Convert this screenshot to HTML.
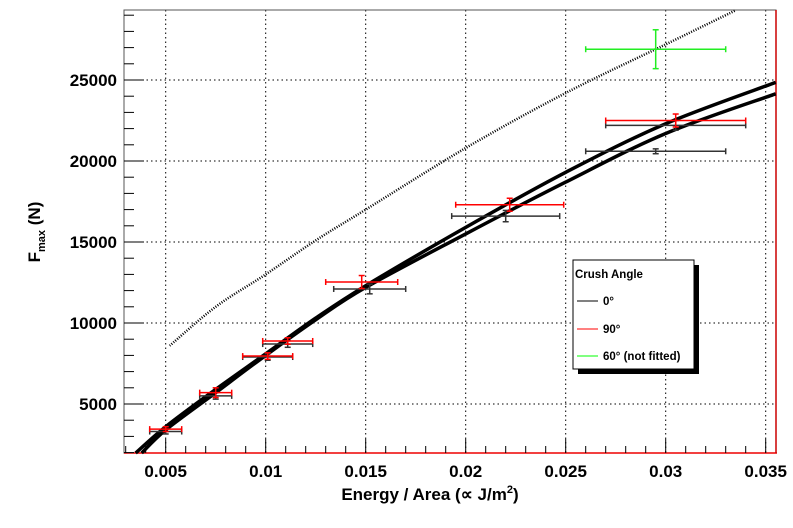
<!DOCTYPE html>
<html><head><meta charset="utf-8"><style>
body{margin:0;background:#fff;}
svg text{font-family:"Liberation Sans",Arial,sans-serif;font-weight:bold;}
</style></head><body>
<svg id="chart" width="793" height="523" xmlns="http://www.w3.org/2000/svg">
<rect width="793" height="523" fill="#fff"/>
<g id="grid"></g>
<g id="axes"></g>
<g id="curves"></g>
<g id="points"></g>
<text x="430" y="500" font-size="17" text-anchor="middle">Energy / Area (∝ J/m<tspan font-size="11" dy="-7">2</tspan><tspan dy="7">)</tspan></text>
<text transform="translate(40,232) rotate(-90)" font-size="17" text-anchor="middle">F<tspan font-size="11" dy="5">max</tspan><tspan dy="-5"> (N)</tspan></text>
<g>
<rect x="578" y="265" width="121" height="109" fill="#000"/>
<rect x="573" y="260" width="121" height="109" fill="#fff" stroke="#000" stroke-width="1"/>
<text x="575" y="278" font-size="11.5">Crush Angle</text>
<line x1="577" y1="301" x2="598" y2="301" stroke="#000"/>
<text x="603" y="305" font-size="11.5">0°</text>
<line x1="577" y1="329" x2="598" y2="329" stroke="#f00"/>
<text x="603" y="333" font-size="11.5">90°</text>
<line x1="577" y1="356" x2="598" y2="356" stroke="#0f0"/>
<text x="603" y="360" font-size="11.5">60° (not fitted)</text>
</g>
</svg>
<script>
const xTicks=[0.005,0.01,0.015,0.02,0.025,0.03,0.035];
const xTickLabels=["0.005","0.01","0.015","0.02","0.025","0.03","0.035"];
const yTicks=[5000,10000,15000,20000,25000];
const yTickLabels=["5000","10000","15000","20000","25000"];
const s0x=[0.005,0.0075,0.0101,0.0111,0.0152,0.022,0.0295,0.0305];
const s0y=[3300,5500,7900,8700,12100,16600,20600,22200];
const s0xe=[0.0008,0.0008,0.00125,0.00125,0.0018,0.0027,0.0035,0.0035];
const s0ye=[150,200,200,200,300,350,150,300];
const s90x=[0.005,0.0075,0.0101,0.0111,0.0148,0.0222,0.0305];
const s90y=[3450,5700,7960,8890,12530,17300,22500];
const s90xe=[0.0008,0.0008,0.00125,0.00125,0.0018,0.0027,0.0035];
const s90ye=[150,300,200,200,400,400,400];
const s60x=[0.0295];const s60y=[26900];const s60xe=[0.0035];const s60ye=[1200];
const fitAx=[0.0035,0.005,0.0075,0.01,0.0125,0.015,0.02,0.025,0.03,0.0355];
const fitAy=[1975,3600,5900,8100,10300,12300,15900,19300,22300,24850];
const fitBx=[0.0038,0.005,0.0075,0.01,0.0125,0.015,0.02,0.025,0.03,0.0355];
const fitBy=[1975,3400,5700,8000,10200,12200,15500,18700,21700,24150];
const fitCx=[0.0052,0.0075,0.01,0.0125,0.015,0.02,0.025,0.03,0.0335];
const fitCy=[8600,11000,13000,15100,17000,20800,24200,27200,29300];

const L=124,R=776,T=10,B=453;
const X=v=>65.7+v*20000;
const Y=v=>404-(v-5000)*81/5000;
const NS="http://www.w3.org/2000/svg";
function mk(p,tag,a){const e=document.createElementNS(NS,tag);for(const k in a)e.setAttribute(k,a[k]);p.appendChild(e);return e;}
const grid=document.getElementById('grid'),axes=document.getElementById('axes');
xTicks.forEach(v=>{const l=mk(grid,'line',{x1:X(v),x2:X(v),y1:T,y2:B,stroke:'#000','stroke-dasharray':'1.5,3'});

});
yTicks.forEach(v=>{const l=mk(grid,'line',{x1:L,x2:R,y1:Y(v),y2:Y(v),stroke:'#000','stroke-dasharray':'1.5,3'});

});
const fr=mk(axes,'rect',{x:L,y:T,width:R-L,height:B-T,fill:'none',stroke:'#555','stroke-width':1});


mk(axes,'line',{x1:L,x2:R+1,y1:B,y2:B,stroke:'#e00','stroke-width':1.5});
mk(axes,'line',{x1:R,x2:R,y1:T,y2:B,stroke:'#c00','stroke-width':1.5});
for(let i=3;i<=35;i++){const v=i/1000;const big=i%5==0;mk(axes,'line',{x1:X(v),x2:X(v),y1:B,y2:B-(big?14:7),stroke:'#000'});}
for(let v=2000;v<=29000;v+=1000){const big=v%5000==0;mk(axes,'line',{x1:L,x2:L+(big?20:10),y1:Y(v),y2:Y(v),stroke:'#000'});}
xTicks.forEach((v,i)=>{const t=mk(axes,'text',{x:X(v),y:477,'font-size':17,'text-anchor':'middle'});t.textContent=xTickLabels[i];

});
yTicks.forEach((v,i)=>{const t=mk(axes,'text',{x:117,y:Y(v)+6,'font-size':17,'text-anchor':'end'});t.textContent=yTickLabels[i];

});
const cv=document.getElementById('curves');
function curve(xs,ys,name,attrs){
const P=xs.map((x,i)=>[X(x),Y(ys[i])]);
let d='M'+P[0][0].toFixed(1)+','+P[0][1].toFixed(1);
for(let i=0;i<P.length-1;i++){const p0=P[Math.max(0,i-1)],p1=P[i],p2=P[i+1],p3=P[Math.min(P.length-1,i+2)];
const c1=[p1[0]+(p2[0]-p0[0])/6,p1[1]+(p2[1]-p0[1])/6],c2=[p2[0]-(p3[0]-p1[0])/6,p2[1]-(p3[1]-p1[1])/6];
d+='C'+c1.map(n=>n.toFixed(1)).join(',')+' '+c2.map(n=>n.toFixed(1)).join(',')+' '+p2.map(n=>n.toFixed(1)).join(',');}
const p=mk(cv,'path',Object.assign({d:d,fill:'none',stroke:'#000'},attrs));

}
curve(fitAx,fitAy,'fit-curve-90',{'stroke-width':3.5});
curve(fitBx,fitBy,'fit-curve-0',{'stroke-width':3.5});
curve(fitCx,fitCy,'fit-curve-60',{'stroke-width':2.5,'stroke-dasharray':'1,1.5'});
const pt=document.getElementById('points');
function series(xs,ys,xe,ye,col,name){xs.forEach((x,i)=>{const g=mk(pt,'g',{stroke:col,'stroke-width':1.5});


const cx=X(x),cy=Y(ys[i]),x1=X(x-xe[i]),x2=X(x+xe[i]),y1=Y(ys[i]-ye[i]),y2=Y(ys[i]+ye[i]);
mk(g,'line',{x1:x1,x2:x2,y1:cy,y2:cy});mk(g,'line',{x1:x1,x2:x1,y1:cy-3,y2:cy+3});mk(g,'line',{x1:x2,x2:x2,y1:cy-3,y2:cy+3});
mk(g,'line',{x1:cx,x2:cx,y1:y1,y2:y2});mk(g,'line',{x1:cx-3,x2:cx+3,y1:y1,y2:y1});mk(g,'line',{x1:cx-3,x2:cx+3,y1:y2,y2:y2});});}
series(s0x,s0y,s0xe,s0ye,'#333','point-0deg');
series(s90x,s90y,s90xe,s90ye,'#f00','point-90deg');
series(s60x,s60y,s60xe,s60ye,'#2e2','point-60deg');
</script>
</body></html>
